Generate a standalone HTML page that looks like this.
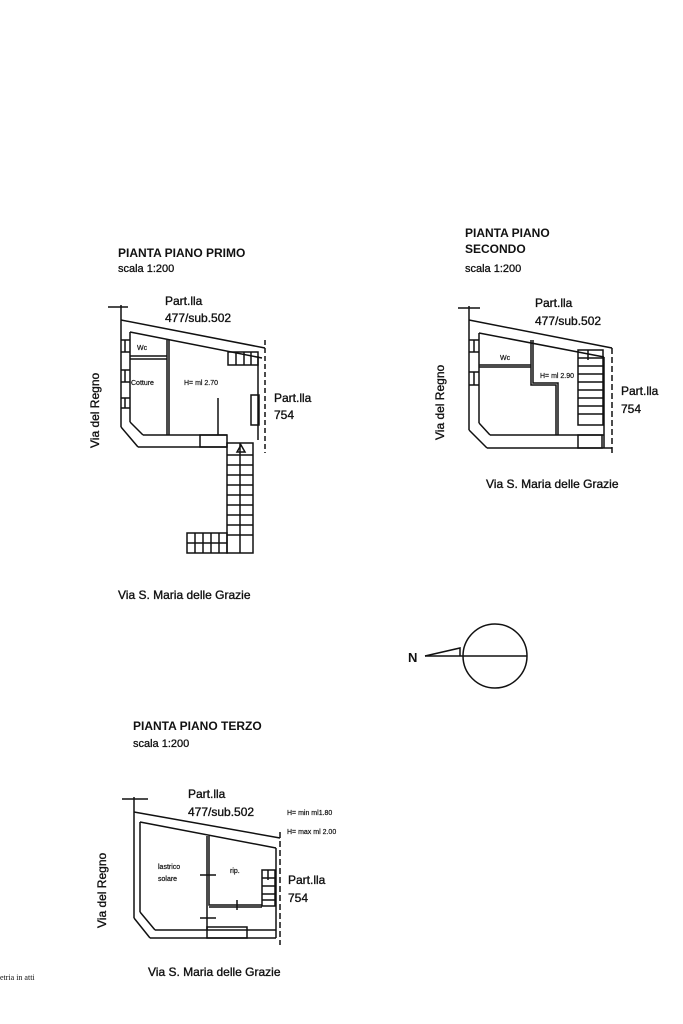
<!DOCTYPE html>
<html><head><meta charset="utf-8"><style>
html,body{margin:0;padding:0;background:#fff;}
svg{display:block;}
text{font-family:"Liberation Sans",sans-serif;fill:#111;}
.t{font-size:12px;font-weight:bold;}
.s{font-size:11px;stroke:#111;stroke-width:0.3;}
.m{font-size:12px;stroke:#111;stroke-width:0.35;}
.x{font-size:7px;stroke:#111;stroke-width:0.2;}
</style></head><body>
<svg width="683" height="1024" viewBox="0 0 683 1024" xmlns="http://www.w3.org/2000/svg">
<g stroke="#111" stroke-width="1.5" fill="none">
<!-- PLAN 1 -->
<line x1="108" y1="307" x2="128" y2="307"/>
<line x1="121" y1="305" x2="121" y2="427"/>
<line x1="121" y1="320" x2="265" y2="348"/>
<line x1="130" y1="332" x2="262" y2="358"/>
<line x1="130" y1="332" x2="130" y2="422"/>
<path d="M121 340h9M121 352h9M121 370h9M121 382h9M121 398h9M121 408h9M125 340v12M125 370v12M125 398v10"/>
<line x1="121" y1="427" x2="138" y2="447"/>
<line x1="130" y1="422" x2="143" y2="435"/>
<line x1="138" y1="447" x2="227" y2="447"/>
<line x1="143" y1="435" x2="227" y2="435"/>
<rect x="200" y="435" width="27" height="12"/>
<line x1="167" y1="340" x2="167" y2="435"/>
<line x1="169" y1="340" x2="169" y2="435"/>
<line x1="130" y1="356" x2="167" y2="356"/>
<line x1="130" y1="359" x2="167" y2="359"/>
<line x1="218" y1="398" x2="218" y2="435"/>
<line x1="265" y1="340" x2="265" y2="453" stroke-dasharray="5,3"/>
<line x1="258" y1="356" x2="258" y2="440"/>
<rect x="228" y="352" width="30" height="13"/>
<line x1="236" y1="352" x2="236" y2="365"/><line x1="244" y1="352" x2="244" y2="365"/><line x1="251" y1="352" x2="251" y2="365"/>
<rect x="251" y="395" width="8" height="30"/>
<rect x="227" y="443" width="26" height="110"/>
<line x1="240" y1="443" x2="240" y2="553"/>
<path d="M227 455h26M227 465h26M227 475h26M227 485h26M227 495h26M227 505h26M227 515h26M227 525h26M227 535h26"/>
<rect x="187" y="533" width="40" height="20"/>
<path d="M195 533v20M203 533v20M211 533v20M219 533v20M187 543h40"/>
<path d="M237 452l4-7 4 7z"/>
<!-- PLAN 2 -->
<line x1="458" y1="308" x2="480" y2="308"/>
<line x1="469" y1="306" x2="469" y2="430"/>
<line x1="469" y1="320" x2="612" y2="348"/>
<line x1="479" y1="333" x2="604" y2="357"/>
<line x1="479" y1="333" x2="479" y2="423"/>
<path d="M469 340h10M469 352h10M469 372h10M469 385h10M474 340v12M474 372v13"/>
<line x1="469" y1="430" x2="487" y2="448"/>
<line x1="479" y1="423" x2="490" y2="435"/>
<line x1="487" y1="448" x2="612" y2="448"/>
<line x1="490" y1="435" x2="604" y2="435"/>
<line x1="604" y1="357" x2="604" y2="448"/>
<line x1="612" y1="348" x2="612" y2="455" stroke-dasharray="6,3"/>
<line x1="479" y1="365" x2="531" y2="365"/>
<line x1="479" y1="367" x2="531" y2="367"/>
<path d="M531 340V385H556V435M533 340V383H558V435"/>
<rect x="578" y="350" width="25" height="75"/>
<path d="M578 358h25M578 366h25M578 374h25M578 382h25M578 390h25M578 398h25M578 406h25M578 414h25M588 350v10"/>
<rect x="578" y="435" width="24" height="13"/>
<!-- compass -->
<circle cx="495" cy="656" r="32"/>
<line x1="425" y1="656" x2="527" y2="656"/>
<path d="M425 656L460 648V656"/>
<!-- PLAN 3 -->
<line x1="122" y1="799" x2="148" y2="799"/>
<line x1="134" y1="797" x2="134" y2="918"/>
<line x1="134" y1="812" x2="280" y2="838"/>
<line x1="140" y1="822" x2="276" y2="848"/>
<line x1="140" y1="822" x2="140" y2="912"/>
<line x1="134" y1="918" x2="150" y2="938"/>
<line x1="140" y1="912" x2="155" y2="930"/>
<line x1="150" y1="938" x2="276" y2="938"/>
<line x1="155" y1="930" x2="276" y2="930"/>
<rect x="207" y="927" width="40" height="11"/>
<line x1="276" y1="848" x2="276" y2="938"/>
<line x1="280" y1="832" x2="280" y2="945" stroke-dasharray="6,3"/>
<path d="M207 836V930M209 836V905H262M209 907H262M200 875h16M200 918h16M237 900v10"/>
<rect x="262" y="870" width="13" height="36"/>
<path d="M262 878h13M262 886h13M262 894h13M262 900h13M268 870v10"/>
</g>
<g>
<text class="t" x="118" y="257">PIANTA PIANO PRIMO</text>
<text class="s" x="118" y="272">scala 1:200</text>
<text class="m" x="165" y="305">Part.lla</text>
<text class="m" x="165" y="322">477/sub.502</text>
<text class="x" x="137" y="350">Wc</text>
<text class="x" x="131" y="385">Cotture</text>
<text class="x" x="184" y="385">H= ml 2.70</text>
<text class="m" x="274" y="402">Part.lla</text>
<text class="m" x="274" y="419">754</text>
<text class="m" transform="translate(99,448) rotate(-90)">Via del Regno</text>
<text class="m" x="118" y="599">Via S. Maria delle Grazie</text>

<text class="t" x="465" y="237">PIANTA PIANO</text>
<text class="t" x="465" y="253">SECONDO</text>
<text class="s" x="465" y="272">scala 1:200</text>
<text class="m" x="535" y="307">Part.lla</text>
<text class="m" x="535" y="325">477/sub.502</text>
<text class="x" x="500" y="360">Wc</text>
<text class="x" x="540" y="378">H= ml 2.90</text>
<text class="m" x="621" y="395">Part.lla</text>
<text class="m" x="621" y="413">754</text>
<text class="m" transform="translate(444,440) rotate(-90)">Via del Regno</text>
<text class="m" x="486" y="488">Via S. Maria delle Grazie</text>
<text style="font-size:13px;font-weight:bold" x="408" y="662">N</text>

<text class="t" x="133" y="730">PIANTA PIANO TERZO</text>
<text class="s" x="133" y="747">scala 1:200</text>
<text class="m" x="188" y="798">Part.lla</text>
<text class="m" x="188" y="816">477/sub.502</text>
<text class="x" x="287" y="815">H= min ml1.80</text>
<text class="x" x="287" y="834">H= max ml 2.00</text>
<text class="x" x="158" y="869">lastrico</text>
<text class="x" x="158" y="881">solare</text>
<text class="x" x="230" y="873">rip.</text>
<text class="m" x="288" y="884">Part.lla</text>
<text class="m" x="288" y="902">754</text>
<text class="m" transform="translate(106,928) rotate(-90)">Via del Regno</text>
<text class="m" x="148" y="976">Via S. Maria delle Grazie</text>
<text style="font-size:8px;font-family:'Liberation Serif',serif" x="0" y="980">etria in atti</text>
</g>
</svg>
</body></html>
